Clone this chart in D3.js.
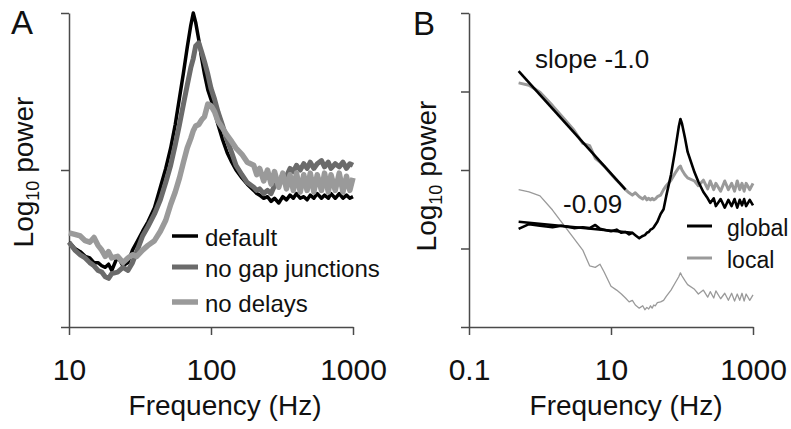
<!DOCTYPE html>
<html>
<head>
<meta charset="utf-8">
<script src="https://cdn.jsdelivr.net/npm/d3@7/dist/d3.min.js"></script>
<style>
  body { margin: 0; background: #fff; }
  svg { display: block; font-family: "Liberation Sans", Arial, sans-serif; }
</style>
</head>
<body>
<div id="chart"></div>
<script>
// ---- panel A: spectra, 10..1000 Hz ----
const freqA = [10, 11, 12, 13, 14, 15, 16, 17, 18, 19, 20, 22, 24, 26, 28, 30, 33, 36, 40, 44, 48, 52, 56, 60, 64, 68, 72, 75, 78, 82, 86, 90, 95, 100, 106, 112, 120, 130, 140, 150, 165, 180,
  200, 210, 220, 235, 250, 265, 280, 300, 320, 340, 360, 380, 400, 425, 450, 475, 500, 530, 560, 600, 630, 670, 700, 750, 800, 850, 900, 950, 1000];
const defaultA = [0.54, 0.50, 0.48, 0.45, 0.44, 0.41, 0.41, 0.39, 0.38, 0.40, 0.36, 0.45, 0.39, 0.41, 0.49, 0.54, 0.61, 0.67, 0.76, 0.89, 1.01, 1.14, 1.29, 1.46, 1.62, 1.78, 1.92, 2.00, 1.94, 1.83, 1.71, 1.61, 1.51, 1.45, 1.37, 1.29, 1.20, 1.11, 1.05, 1.00, 0.95, 0.91,
  0.87, 0.85, 0.84, 0.82, 0.83, 0.80, 0.82, 0.79, 0.83, 0.81, 0.84, 0.82, 0.85, 0.82, 0.83, 0.81, 0.84, 0.82, 0.85, 0.82, 0.84, 0.82, 0.85, 0.82, 0.85, 0.82, 0.84, 0.82, 0.83];
const noGapA = [0.54, 0.49, 0.46, 0.44, 0.41, 0.39, 0.36, 0.35, 0.32, 0.31, 0.34, 0.35, 0.38, 0.36, 0.41, 0.48, 0.58, 0.64, 0.72, 0.81, 0.92, 1.03, 1.16, 1.29, 1.42, 1.54, 1.65, 1.71, 1.79, 1.81, 1.75, 1.69, 1.61, 1.52, 1.45, 1.37, 1.29, 1.19, 1.11, 1.03, 0.97, 0.92,
  0.89, 0.87, 0.88, 0.85, 0.87, 0.85, 0.90, 0.92, 0.97, 0.96, 1.01, 0.99, 1.03, 1.00, 1.04, 1.01, 1.05, 1.01, 1.04, 1.06, 1.02, 1.05, 1.01, 1.04, 1.02, 1.05, 1.01, 1.04, 1.03];
const noDelayA = [0.60, 0.59, 0.58, 0.55, 0.54, 0.57, 0.52, 0.49, 0.45, 0.48, 0.44, 0.45, 0.41, 0.44, 0.46, 0.45, 0.49, 0.52, 0.55, 0.61, 0.68, 0.78, 0.86, 0.95, 1.05, 1.14, 1.20, 1.25, 1.28, 1.29, 1.32, 1.34, 1.42, 1.41, 1.37, 1.31, 1.27, 1.22, 1.18, 1.14, 1.10, 1.05,
  1.03, 0.97, 1.01, 0.93, 1.00, 0.91, 0.99, 0.89, 0.98, 0.88, 0.97, 0.87, 0.98, 0.86, 0.97, 0.87, 0.98, 0.86, 0.97, 0.87, 0.98, 0.86, 0.97, 0.87, 0.98, 0.86, 0.96, 0.87, 0.95];
const seriesA = ["default", "no gap junctions", "no delays"];
const ticksAx = [10, 100, 1000];
const ticksAy = [0, 1, 2];

// ---- panel B: global vs local, 0.1..1000 Hz ----
const freqB = [0.5, 0.7, 1, 1.5, 2, 3, 4, 5, 6, 7, 8, 10, 12, 14, 16, 18, 20, 22, 25, 28, 30, 32, 34, 36, 38, 40, 42, 45, 50, 55, 60, 70, 80, 90, 95, 100, 110, 120,
  150, 170, 200, 230, 250, 280, 300, 350, 400, 450, 500, 550, 600, 650, 700, 750, 800, 900, 1000];
const globalB = [1.25, 1.31, 1.29, 1.27, 1.29, 1.26, 1.27, 1.26, 1.30, 1.25, 1.24, 1.22, 1.24, 1.20, 1.21, 1.18, 1.20, 1.17, 1.13, 1.16, 1.17, 1.20, 1.21, 1.24, 1.25, 1.27, 1.30, 1.34, 1.44, 1.50, 1.67, 1.94, 2.25, 2.55, 2.65, 2.59, 2.41, 2.23,
  1.97, 1.85, 1.72, 1.64, 1.58, 1.64, 1.54, 1.63, 1.52, 1.62, 1.54, 1.63, 1.52, 1.62, 1.55, 1.63, 1.54, 1.62, 1.55];
const localB = [3.11, 3.08, 2.99, 2.82, 2.69, 2.51, 2.34, 2.31, 2.15, 2.10, 2.05, 1.95, 1.87, 1.81, 1.75, 1.71, 1.68, 1.71, 1.66, 1.63, 1.66, 1.62, 1.64, 1.62, 1.64, 1.62, 1.63, 1.66, 1.68, 1.75, 1.80, 1.87, 1.96, 2.03, 2.05, 2.00, 1.94, 1.90,
  1.86, 1.80, 1.87, 1.76, 1.86, 1.75, 1.83, 1.73, 1.86, 1.75, 1.83, 1.73, 1.86, 1.75, 1.83, 1.73, 1.83, 1.75, 1.83];
const localThinB = [1.75, 1.72, 1.67, 1.49, 1.34, 1.13, 0.98, 0.78, 0.76, 0.80, 0.70, 0.52, 0.47, 0.42, 0.37, 0.32, 0.34, 0.28, 0.24, 0.27, 0.22, 0.25, 0.23, 0.27, 0.24, 0.28, 0.27, 0.31, 0.32, 0.34, 0.39, 0.47, 0.56, 0.64, 0.69, 0.65, 0.59, 0.54,
  0.48, 0.42, 0.47, 0.38, 0.45, 0.37, 0.46, 0.36, 0.43, 0.34, 0.43, 0.33, 0.42, 0.34, 0.43, 0.33, 0.42, 0.34, 0.41];
const fitSteep = [[0.5, 3.26], [16, 1.75]];
const fitFlat = [[0.5, 1.34], [20, 1.20]];
const seriesB = ["global", "local"];
const ticksBx = [0.1, 10, 1000];
const ticksBy = [0, 1, 2, 3, 4];

const W = 791, H = 429;
const svg = d3.select("#chart").append("svg")
  .attr("width", W).attr("height", H);

const axisColor = "#4a4a4a";
const cDark = "#6b6b6b", cLight = "#9a9a9a";

function drawFrame(x, y, xt, yt, xLabelX, fmt) {
  const [x0] = x.range();
  const [y0] = y.range();
  const gx = svg.append("g").attr("transform", `translate(0,${y0})`)
    .call(d3.axisBottom(x).tickValues(xt).tickSize(8).tickSizeOuter(0).tickFormat(fmt));
  const gy = svg.append("g").attr("transform", `translate(${x0},0)`)
    .call(d3.axisLeft(y).tickValues(yt).tickSize(8).tickSizeOuter(0).tickFormat(""));
  [gx, gy].forEach(g => {
    g.select(".domain").attr("stroke", axisColor).attr("stroke-width", 1.5);
    g.selectAll(".tick line").attr("stroke", axisColor).attr("stroke-width", 1.5);
  });
  gx.selectAll(".tick text")
    .attr("y", 0).attr("dy", null)
    .attr("transform", "translate(0,53)")
    .style("font-size", "30px").style("font-family", "Liberation Sans, Arial, sans-serif")
    .attr("fill", "#111");

  svg.append("text").attr("x", xLabelX).attr("y", 415)
    .attr("text-anchor", "middle").style("font-size", "28px").attr("fill", "#111")
    .text("Frequency (Hz)");
}

function yLabel(cx, cy) {
  const t = svg.append("text")
    .attr("transform", `translate(${cx},${cy}) rotate(-90)`)
    .attr("text-anchor", "middle").style("font-size", "28px").attr("fill", "#111");
  t.append("tspan").text("Log");
  t.append("tspan").text("10").style("font-size", "18px").attr("dy", 6);
  t.append("tspan").text(" power").attr("dy", -6);
}

// ---------- Panel A ----------
const xA = d3.scaleLog().domain([10, 1000]).range([69, 353]);
const yA = d3.scaleLinear().domain([0, 2]).range([327, 13]);
drawFrame(xA, yA, ticksAx, ticksAy, 225, d3.format("d"));
yLabel(33, 172);
svg.append("text").attr("x", 11).attr("y", 34).style("font-size", "33px").attr("fill", "#111").text("A");

const lineA = d3.line().x(d => xA(d[0])).y(d => yA(d[1]));
const stylesA = [
  { data: defaultA, color: "#000", w: 3.5 },
  { data: noGapA, color: cDark, w: 5 },
  { data: noDelayA, color: cLight, w: 5.5 }
];
stylesA.forEach(s => {
  svg.append("path")
    .datum(freqA.map((f, i) => [f, s.data[i]]))
    .attr("d", lineA).attr("fill", "none")
    .attr("stroke", s.color).attr("stroke-width", s.w)
    .attr("stroke-linejoin", "round");
});

const legA = svg.append("g");
seriesA.forEach((name, i) => {
  const ly = [236, 267, 302][i];
  legA.append("line").attr("x1", 172).attr("x2", 198).attr("y1", ly).attr("y2", ly)
    .attr("stroke", stylesA[i].color).attr("stroke-width", stylesA[i].w);
  legA.append("text").attr("x", 205).attr("y", ly + 10)
    .style("font-size", "24px").attr("fill", "#111").text(name);
});

// ---------- Panel B ----------
const xB = d3.scaleLog().domain([0.1, 1000]).range([469, 753]);
const yB = d3.scaleLinear().domain([0, 4]).range([327, 13]);
drawFrame(xB, yB, ticksBx, ticksBy, 626, d => (d < 1 ? d3.format(".1f")(d) : d3.format("d")(d)));
yLabel(436, 176);
svg.append("text").attr("x", 413).attr("y", 35).style("font-size", "33px").attr("fill", "#111").text("B");

const lineB = d3.line().x(d => xB(d[0])).y(d => yB(d[1]));
const stylesB = [
  { data: localThinB, color: cLight, w: 1.3 },
  { data: localB, color: cLight, w: 3 },
  { data: globalB, color: "#000", w: 2.6 }
];
stylesB.forEach(s => {
  svg.append("path")
    .datum(freqB.map((f, i) => [f, s.data[i]]))
    .attr("d", lineB).attr("fill", "none")
    .attr("stroke", s.color).attr("stroke-width", s.w)
    .attr("stroke-linejoin", "round");
});
[fitSteep, fitFlat].forEach(fit => {
  svg.append("path").datum(fit).attr("d", lineB).attr("fill", "none")
    .attr("stroke", "#000").attr("stroke-width", 2.6);
});

svg.append("text").attr("x", 535).attr("y", 68).style("font-size", "26px").attr("fill", "#111").text("slope -1.0");
svg.append("text").attr("x", 563).attr("y", 213).style("font-size", "26px").attr("fill", "#111").text("-0.09");

const legB = svg.append("g");
seriesB.forEach((name, i) => {
  const ly = [226, 258][i];
  legB.append("line").attr("x1", 687).attr("x2", 712).attr("y1", ly).attr("y2", ly)
    .attr("stroke", i === 0 ? "#000" : cLight).attr("stroke-width", 3);
  legB.append("text").attr("x", 727).attr("y", ly + 10)
    .style("font-size", "23px").attr("fill", "#111").text(name);
});
</script>
</body>
</html>
